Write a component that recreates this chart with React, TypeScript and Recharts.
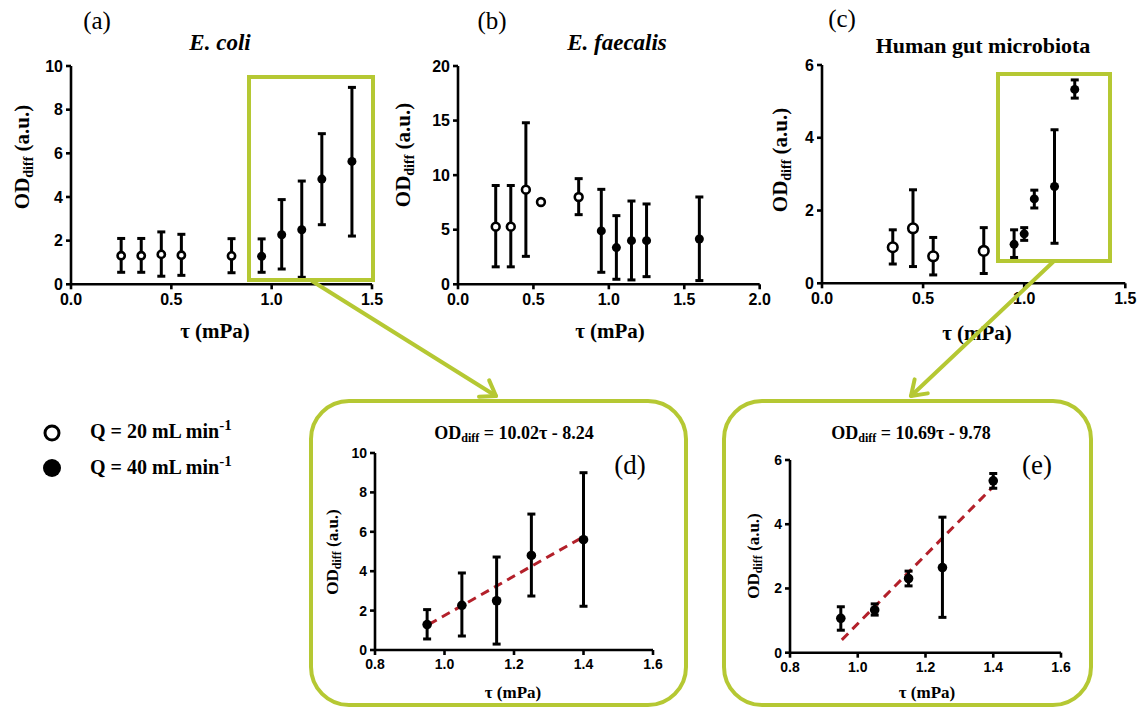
import React from 'react';
import { ScatterChart, Scatter, XAxis, YAxis, ErrorBar, ReferenceLine } from 'recharts';

// ---- data ----
// (a) E. coli
const tauA20 = [0.25, 0.35, 0.45, 0.55, 0.8];
const odA20 = [1.31, 1.31, 1.37, 1.33, 1.3];
const lowA20 = [0.55, 0.55, 0.37, 0.41, 0.53];
const highA20 = [2.1, 2.1, 2.4, 2.29, 2.09];
const tauA40 = [0.95, 1.05, 1.15, 1.25, 1.4];
const odA40 = [1.28, 2.27, 2.5, 4.82, 5.63];
const lowA40 = [0.55, 0.7, 0.32, 2.73, 2.21];
const highA40 = [2.08, 3.88, 4.73, 6.9, 9.02];

// (b) E. faecalis
const tauB20 = [0.25, 0.35, 0.45, 0.55, 0.8];
const odB20 = [5.28, 5.28, 8.67, 7.54, 8.0];
const lowB20 = [1.6, 1.6, 2.56, 7.54, 6.38];
const highB20 = [9.05, 9.05, 14.8, 7.54, 9.68];
const tauB40 = [0.95, 1.05, 1.15, 1.25, 1.6];
const odB40 = [4.89, 3.36, 4.0, 4.0, 4.15];
const lowB40 = [1.1, 0.46, 0.4, 0.7, 0.34];
const highB40 = [8.7, 6.29, 7.63, 7.36, 8.0];

// (c) human gut microbiota
const tauC20 = [0.35, 0.45, 0.55, 0.8];
const odC20 = [0.99, 1.51, 0.74, 0.89];
const lowC20 = [0.53, 0.46, 0.23, 0.27];
const highC20 = [1.47, 2.57, 1.26, 1.53];
const tauC40 = [0.95, 1.0, 1.05, 1.15, 1.25];
const odC40 = [1.07, 1.36, 2.32, 2.66, 5.33];
const lowC40 = [0.71, 1.18, 2.07, 1.1, 5.09];
const highC40 = [1.47, 1.53, 2.56, 4.22, 5.59];

// (d) zoom of E. coli, (e) zoom of gut microbiota
const tauD = [0.95, 1.05, 1.15, 1.25, 1.4];
const odD = [1.29, 2.27, 2.5, 4.8, 5.6];
const lowD = [0.56, 0.71, 0.3, 2.74, 2.22];
const highD = [2.05, 3.91, 4.72, 6.9, 9.0];
const fitD = [{ x: 0.955, y: 1.3 }, { x: 1.4, y: 5.75 }];

const tauE = [0.95, 1.05, 1.15, 1.25, 1.4];
const odE = [1.07, 1.33, 2.31, 2.65, 5.35];
const lowE = [0.7, 1.17, 2.08, 1.1, 5.12];
const highE = [1.43, 1.52, 2.54, 4.22, 5.58];
const fitE = [{ x: 0.953, y: 0.4 }, { x: 1.398, y: 5.15 }];

const ticksX15 = [0, 0.5, 1, 1.5];
const ticksX20 = [0, 0.5, 1, 1.5, 2];
const ticksXZoom = [0.8, 1.0, 1.2, 1.4, 1.6];

const GREEN = '#b5c833';
const SERIF = '"Liberation Serif","Times New Roman",serif';
const SANS = '"Liberation Sans",Arial,sans-serif';

type Pt = { x: number; y: number; err: [number, number] };

const build = (tau: number[], od: number[], low: number[], high: number[]): Pt[] =>
  tau.map((t, i) => ({ x: t, y: od[i], err: [od[i] - low[i], high[i] - od[i]] }));

type PanelProps = {
  l: number; r: number; t: number; b: number;
  xDomain: [number, number]; xTicks: number[];
  yDomain: [number, number]; yTicks: number[];
  open?: Pt[]; filled: Pt[];
  openR?: number; filledR: number;
  fit?: { x: number; y: number }[];
  fontSize: number;
};

function Panel(p: PanelProps) {
  const yw = 50, mt = 10, mr = 18, xh = 34;
  const width = yw + (p.r - p.l) + mr;
  const height = mt + (p.b - p.t) + xh;
  const tick = { fill: '#000', fontSize: p.fontSize, fontWeight: 700, fontFamily: SANS };
  const axisLine = { stroke: '#000', strokeWidth: 2.6 };
  const openShape = (s: any) => (
    <circle cx={s.cx} cy={s.cy} r={p.openR} fill="#fff" stroke="#000" strokeWidth={2.6} />
  );
  const filledShape = (s: any) => <circle cx={s.cx} cy={s.cy} r={p.filledR} fill="#000" />;
  return (
    <div style={{ position: 'absolute', left: p.l - yw, top: p.t - mt }}>
      <ScatterChart width={width} height={height} margin={{ top: mt, right: mr, bottom: 0, left: 0 }}>
        <XAxis
          type="number"
          dataKey="x"
          domain={p.xDomain}
          ticks={p.xTicks}
          tickFormatter={(v: number) => v.toFixed(1)}
          axisLine={axisLine}
          tickLine={axisLine}
          tickSize={5}
          tickMargin={4}
          tick={tick}
          height={xh}
          allowDataOverflow
        />
        <YAxis
          type="number"
          dataKey="y"
          domain={p.yDomain}
          ticks={p.yTicks}
          axisLine={axisLine}
          tickLine={axisLine}
          tickSize={5}
          tickMargin={3}
          tick={tick}
          width={yw}
          allowDataOverflow
        />
        {p.fit && (
          <ReferenceLine
            segment={p.fit}
            stroke="#b3202a"
            strokeWidth={3}
            strokeDasharray="9 6"
            ifOverflow="visible"
          />
        )}
        {p.open && (
          <Scatter data={p.open} shape={openShape} isAnimationActive={false}>
            <ErrorBar dataKey="err" direction="y" width={4} stroke="#000" strokeWidth={3} />
          </Scatter>
        )}
        <Scatter data={p.filled} shape={filledShape} isAnimationActive={false}>
          <ErrorBar dataKey="err" direction="y" width={4} stroke="#000" strokeWidth={3} />
        </Scatter>
      </ScatterChart>
    </div>
  );
}

function YLabel({ x, y, fs }: { x: number; y: number; fs: number }) {
  const sub = Math.round(fs * 0.68);
  return (
    <text
      transform={`translate(${x},${y}) rotate(-90)`}
      textAnchor="middle"
      dominantBaseline="central"
      fontFamily={SERIF}
      fontWeight={700}
      fontSize={fs}
      fill="#000"
    >
      <tspan>OD</tspan>
      <tspan dy={fs * 0.3} fontSize={sub}>diff</tspan>
      <tspan dy={-fs * 0.3}> (a.u.)</tspan>
    </text>
  );
}

function Arrow({ x1, y1, x2, y2 }: { x1: number; y1: number; x2: number; y2: number }) {
  const a = Math.atan2(y2 - y1, x2 - x1);
  const len = 17, spread = 0.6;
  const p1 = [x2 - len * Math.cos(a - spread), y2 - len * Math.sin(a - spread)];
  const p2 = [x2 - len * Math.cos(a + spread), y2 - len * Math.sin(a + spread)];
  return (
    <g stroke={GREEN} strokeWidth={4} fill="none" strokeLinecap="round" strokeLinejoin="round">
      <line x1={x1} y1={y1} x2={x2} y2={y2} />
      <polyline points={`${p1[0]},${p1[1]} ${x2},${y2} ${p2[0]},${p2[1]}`} />
    </g>
  );
}

function Overlay() {
  const txt = { fontFamily: SERIF, fill: '#000', dominantBaseline: 'central' as const, textAnchor: 'middle' as const };
  return (
    <svg width={1141} height={711} style={{ position: 'absolute', left: 0, top: 0, pointerEvents: 'none' }}>
      {/* panel letters and titles */}
      <text x={97} y={20} fontSize={25} {...txt}>(a)</text>
      <text x={492} y={20} fontSize={25} {...txt}>(b)</text>
      <text x={842} y={18} fontSize={25} {...txt}>(c)</text>
      <text x={220} y={42} fontSize={23} fontWeight={700} fontStyle="italic" {...txt}>E. coli</text>
      <text x={617} y={42} fontSize={23} fontWeight={700} fontStyle="italic" {...txt}>E. faecalis</text>
      <text x={983} y={45} fontSize={22} fontWeight={700} {...txt}>Human gut microbiota</text>

      <YLabel x={22} y={157} fs={21} />
      <YLabel x={403} y={155} fs={21} />
      <YLabel x={780} y={160} fs={21} />
      <text x={215} y={331} fontSize={21} fontWeight={700} {...txt}>τ (mPa)</text>
      <text x={610} y={331} fontSize={21} fontWeight={700} {...txt}>τ (mPa)</text>
      <text x={977} y={333} fontSize={21} fontWeight={700} {...txt}>τ (mPa)</text>

      {/* zoom boxes and arrows */}
      <rect x={249} y={77} width={124} height={203} fill="none" stroke={GREEN} strokeWidth={4} />
      <rect x={998} y={74} width={112} height={187} fill="none" stroke={GREEN} strokeWidth={4} />
      <Arrow x1={312} y1={281} x2={496} y2={396} />
      <Arrow x1={1053} y1={262} x2={911} y2={396} />
      <rect x={311} y={401} width={375} height={304} rx={38} fill="none" stroke={GREEN} strokeWidth={4} />
      <rect x={724} y={401} width={367} height={304} rx={38} fill="none" stroke={GREEN} strokeWidth={4} />

      {/* inset titles */}
      <text x={514} y={433} fontSize={18} fontWeight={700} {...txt}>
        <tspan>OD</tspan>
        <tspan dy={5} fontSize={12}>diff</tspan>
        <tspan dy={-5}> = 10.02τ - 8.24</tspan>
      </text>
      <text x={911} y={433} fontSize={18} fontWeight={700} {...txt}>
        <tspan>OD</tspan>
        <tspan dy={5} fontSize={12}>diff</tspan>
        <tspan dy={-5}> = 10.69τ - 9.78</tspan>
      </text>
      <text x={630} y={465} fontSize={27} {...txt}>(d)</text>
      <text x={1037} y={465} fontSize={27} {...txt}>(e)</text>
      <YLabel x={332} y={552} fs={17} />
      <YLabel x={753} y={556} fs={17} />
      <text x={513} y={692} fontSize={17} fontWeight={700} {...txt}>τ (mPa)</text>
      <text x={927} y={692} fontSize={17} fontWeight={700} {...txt}>τ (mPa)</text>

      {/* legend */}
      <circle cx={52} cy={433} r={7} fill="#fff" stroke="#000" strokeWidth={3} />
      <circle cx={52} cy={468} r={9} fill="#000" />
      <text x={90} y={438} fontFamily={SERIF} fontWeight={700} fontSize={20} fill="#000">
        Q = 20 mL min<tspan dy={-8} fontSize={15}>-1</tspan>
      </text>
      <text x={90} y={474} fontFamily={SERIF} fontWeight={700} fontSize={20} fill="#000">
        Q = 40 mL min<tspan dy={-8} fontSize={15}>-1</tspan>
      </text>
    </svg>
  );
}

export default function App() {
  return (
    <div style={{ position: 'absolute', left: 0, top: 0, width: 1141, height: 711, background: '#fff', overflow: 'hidden' }}>
      <Panel
        l={70.5} r={371.5} t={66} b={284.3}
        xDomain={[0, 1.5]} xTicks={ticksX15}
        yDomain={[0, 10]} yTicks={[0, 2, 4, 6, 8, 10]}
        open={build(tauA20, odA20, lowA20, highA20)}
        filled={build(tauA40, odA40, lowA40, highA40)}
        openR={3.6} filledR={4.5} fontSize={16}
      />
      <Panel
        l={458.3} r={760} t={66} b={284.3}
        xDomain={[0, 2]} xTicks={ticksX20}
        yDomain={[0, 20]} yTicks={[0, 5, 10, 15, 20]}
        open={build(tauB20, odB20, lowB20, highB20)}
        filled={build(tauB40, odB40, lowB40, highB40)}
        openR={3.9} filledR={4.5} fontSize={16}
      />
      <Panel
        l={821.7} r={1125} t={65} b={283.3}
        xDomain={[0, 1.5]} xTicks={ticksX15}
        yDomain={[0, 6]} yTicks={[0, 2, 4, 6]}
        open={build(tauC20, odC20, lowC20, highC20)}
        filled={build(tauC40, odC40, lowC40, highC40)}
        openR={4.8} filledR={4.5} fontSize={16}
      />
      <Panel
        l={375} r={653} t={453.3} b={650.3}
        xDomain={[0.8, 1.6]} xTicks={ticksXZoom}
        yDomain={[0, 10]} yTicks={[0, 2, 4, 6, 8, 10]}
        filled={build(tauD, odD, lowD, highD)}
        filledR={4.8} fit={fitD} fontSize={14}
      />
      <Panel
        l={790} r={1061} t={460} b={652.7}
        xDomain={[0.8, 1.6]} xTicks={ticksXZoom}
        yDomain={[0, 6]} yTicks={[0, 2, 4, 6]}
        filled={build(tauE, odE, lowE, highE)}
        filledR={4.8} fit={fitE} fontSize={14}
      />
      <Overlay />
    </div>
  );
}
